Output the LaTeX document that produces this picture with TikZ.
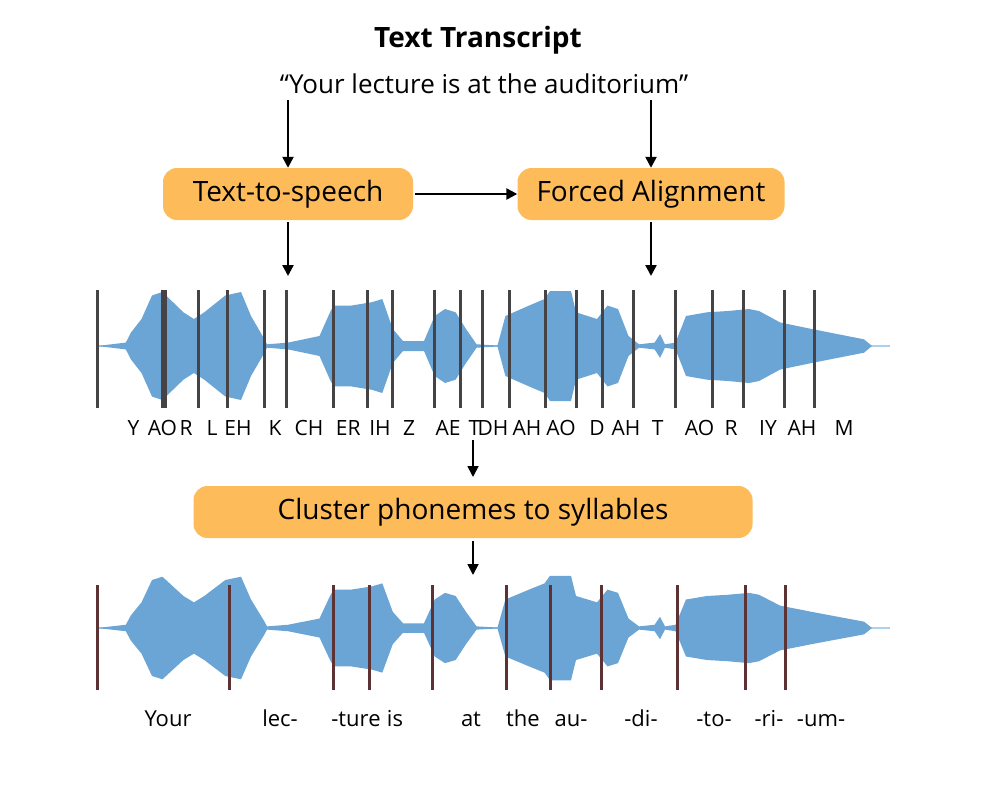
\documentclass[tikz,border=0pt]{standalone}
\usepackage{fontspec}
\setmainfont{Open Sans}
\usetikzlibrary{arrows.meta}
\definecolor{boxorange}{HTML}{FDBB5A}
\definecolor{wavefill}{HTML}{6AA5D6}
\definecolor{waveline}{HTML}{A8D2EE}
\definecolor{phonebar}{HTML}{454345}
\definecolor{sylbar}{HTML}{5C3234}
\tikzset{
  stage/.style={rectangle,rounded corners=14pt,fill=boxorange,minimum height=52pt,font=\fontsize{28}{32}\selectfont},
  flow/.style={-{Triangle[length=11pt,width=11pt]},line width=2.4pt},
  lab/.style={font=\fontsize{22}{26}\selectfont,anchor=base},
  bar/.style={line width=3pt}
}
\newcommand{\envelope}{(97,0) (125.8,3.4) (131,13.5) (141.5,27) (152,50.5) (162.4,54) (183.4,33.7) (193.9,27) (204.3,33.7) (225.3,50.5) (241,54) (251,30) (264.5,6.7) (267,1.7) (288,3.4) (303.8,6.7) (319.5,10) (330,33.7) (333.6,40.4) (351,40.4) (371.9,43.8) (382.3,47) (392.8,17) (403,5) (424,5) (434.7,30) (445,37) (455.6,33.7) (466,17) (476.6,1.7) (497.5,0.5) (505.4,30) (529,40.4) (544.6,47) (550,55) (571,55) (576,33.7) (597,27) (607.5,40.4) (618,37) (628.5,10) (639,1.7) (654.6,3.4) (660,11.8) (665,1.7) (675.5,3.4) (686,30) (707,33.7) (728,35) (749,37) (759,35) (780,23.6) (811.7,17) (838,11.8) (864,6.7) (872,0)}
\begin{document}
\begin{tikzpicture}[x=1pt,y=-1pt]
\useasboundingbox (0,0) rectangle (990,800);
% transcript
\node[font=\bfseries\fontsize{28}{32}\selectfont] (title) at (478,40) {Text Transcript};
\node[font=\fontsize{26}{30}\selectfont] (quote) at (484,84) {“Your lecture is at the auditorium”};
\coordinate (q1) at (288,100);
\coordinate (q2) at (651,100);
% stages
\node[stage,minimum width=250pt] (tts) at (288,194) {Text-to-speech};
\node[stage,minimum width=267pt] (fa) at (651,194) {Forced Alignment};
\node[stage,minimum width=559pt] (cluster) at (473,512) {Cluster phonemes to syllables};
\draw[flow] (q1) -- (tts.north);
\draw[flow] (q2) -- (fa.north);
\draw[flow] (tts.east) ++(2,0) -- (fa.west);
\coordinate (w1) at (288,276);
\coordinate (w2) at (651,276);
\draw[flow] (tts.south) ++(0,2) -- (w1);
\draw[flow] (fa.south) ++(0,2) -- (w2);
% phoneme waveform
\begin{scope}[shift={(0,346)}]
  \draw[waveline,line width=1.2pt] (97,0) -- (890,0);
  \fill[wavefill] plot[sharp corners] coordinates {\envelope} -- plot[sharp corners,yscale=-1] coordinates {\envelope} -- cycle;
\end{scope}
\foreach \x in {97,162.4,165,198,227,264.5,286.5,333.6,367.7,392.8,434.7,460.9,482.9,509,545.7,576,602,633.6,675.5,712,743.6,784.4,814}
  \draw[bar,phonebar] (\x,290) -- (\x,408);
\foreach \x/\t in {133.6/Y,162.4/AO,186/R,212/L,238/EH,275/K,309/CH,348.3/ER,380/IH,409/Z,448/AE,474.5/T,493/DH,527/AH,561/AO,597/D,626/AH,657.6/T,699.5/AO,731/R,768/IY,802/AH,844/M}
  \node[lab,font=\fontsize{21}{24}\selectfont] at (\x,435) {\t};
\coordinate (p1) at (473,440);
\coordinate (c1) at (473,477);
\draw[flow,line width=1.8pt] (p1) -- (c1);
\coordinate (c2) at (473,575);
\draw[flow,line width=1.8pt] (cluster.south) ++(0,3) -- (c2);
% syllable waveform
\begin{scope}[shift={(0,628)},yscale=0.95]
  \draw[waveline,line width=1.2pt] (97,0) -- (890,0);
  \fill[wavefill] plot[sharp corners] coordinates {\envelope} -- plot[sharp corners,yscale=-1] coordinates {\envelope} -- cycle;
\end{scope}
\foreach \x in {97,229,333,369,432,506,550,601,677,745,785}
  \draw[bar,sylbar] (\x,585) -- (\x,690);
\foreach \x/\t in {168/Your,280/lec-,356/-ture,395/is,471/at,523/the,571/au-,641/-di-,714/-to-,769/-ri-,821/-um-}
  \node[lab] at (\x,726) {\t};
\end{tikzpicture}
\end{document}
